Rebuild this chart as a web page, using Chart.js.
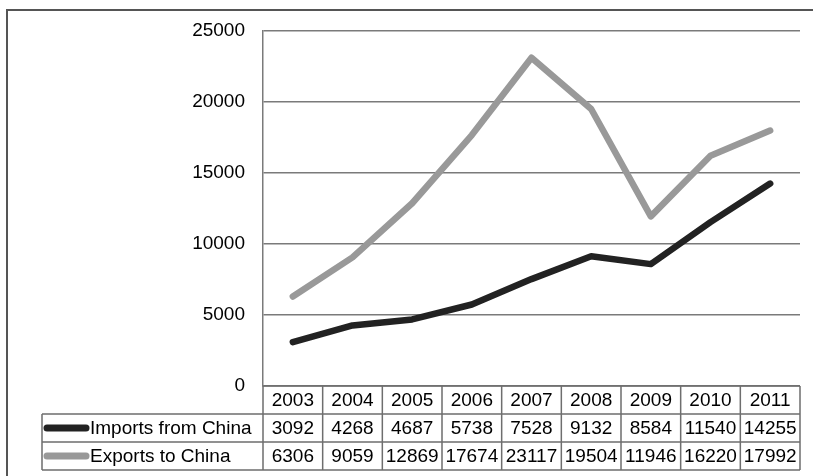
<!DOCTYPE html>
<html>
<head>
<meta charset="utf-8">
<script src="https://cdn.jsdelivr.net/npm/chart.js@4"></script>
<style>
  html, body { margin: 0; padding: 0; background: #fff; }
  #wrap { width: 813px; height: 476px; position: relative; }
</style>
</head>
<body>
<div id="wrap"><canvas id="chart"></canvas></div>
<script>
const years = ['2003', '2004', '2005', '2006', '2007', '2008', '2009', '2010', '2011'];
const importsFromChina = [3092, 4268, 4687, 5738, 7528, 9132, 8584, 11540, 14255];
const exportsToChina = [6306, 9059, 12869, 17674, 23117, 19504, 11946, 16220, 17992];
const seriesNames = ['Imports from China', 'Exports to China'];
const seriesColors = ['#222222', '#999999'];

const FONT = '"Liberation Sans", Arial, sans-serif';

// draws the data table under the plot, columns taken from the x scale
const dataTable = {
  id: 'dataTable',
  afterDraw(chart) {
    const ctx = chart.ctx;
    const x = chart.scales.x;
    const area = chart.chartArea;
    const rowH = 28;
    const labelLeft = 42;
    const top = area.bottom;
    const half = (x.getPixelForValue(1) - x.getPixelForValue(0)) / 2;
    const edges = years.map((_, i) => x.getPixelForValue(i) - half);
    edges.push(x.getPixelForValue(years.length - 1) + half);

    ctx.save();
    ctx.strokeStyle = '#6e6e6e';
    ctx.lineWidth = 1.5;
    ctx.font = '19px ' + FONT;
    ctx.fillStyle = '#000';
    ctx.textBaseline = 'middle';

    // horizontal lines
    const right = edges[edges.length - 1];
    ctx.beginPath();
    ctx.moveTo(area.left, top); ctx.lineTo(right, top);
    for (let r = 1; r <= 3; r++) {
      ctx.moveTo(labelLeft, top + r * rowH); ctx.lineTo(right, top + r * rowH);
    }
    // vertical lines
    ctx.moveTo(labelLeft, top + rowH); ctx.lineTo(labelLeft, top + 3 * rowH);
    edges.forEach(e => { ctx.moveTo(e, top); ctx.lineTo(e, top + 3 * rowH); });
    ctx.stroke();

    // year header
    ctx.textAlign = 'center';
    years.forEach((y, i) => ctx.fillText(y, x.getPixelForValue(i), top + rowH / 2 + 1));

    // series rows
    const rows = [importsFromChina, exportsToChina];
    rows.forEach((vals, r) => {
      const cy = top + (r + 1) * rowH + rowH / 2;
      ctx.textAlign = 'center';
      vals.forEach((v, i) => ctx.fillText(String(v), x.getPixelForValue(i), cy + 1));
      ctx.save();
      ctx.strokeStyle = seriesColors[r];
      ctx.lineWidth = 7;
      ctx.lineCap = 'round';
      ctx.beginPath();
      ctx.moveTo(47, cy); ctx.lineTo(86, cy);
      ctx.stroke();
      ctx.restore();
      ctx.textAlign = 'left';
      ctx.fillText(seriesNames[r], 90, cy + 1);
    });

    // outer frame
    ctx.strokeStyle = '#555';
    ctx.lineWidth = 2;
    ctx.strokeRect(7, 10, 900, 600);
    ctx.restore();
  }
};

new Chart(document.getElementById('chart'), {
  type: 'line',
  data: {
    labels: years,
    datasets: [
      {
        label: seriesNames[0],
        data: importsFromChina,
        borderColor: seriesColors[0],
        borderWidth: 6.5,
        pointRadius: 0,
        tension: 0,
        borderCapStyle: 'round',
        borderJoinStyle: 'round'
      },
      {
        label: seriesNames[1],
        data: exportsToChina,
        borderColor: seriesColors[1],
        borderWidth: 6.5,
        pointRadius: 0,
        tension: 0,
        borderCapStyle: 'round',
        borderJoinStyle: 'round'
      }
    ]
  },
  options: {
    responsive: true,
    maintainAspectRatio: false,
    animation: false,
    layout: { padding: { left: 0, top: 31, right: 13, bottom: 90 } },
    plugins: {
      legend: { display: false },
      tooltip: { enabled: false }
    },
    scales: {
      x: {
        display: false,
        offset: true
      },
      y: {
        min: 0,
        max: 25000,
        afterFit(scale) { scale.width = 263; },
        ticks: {
          stepSize: 5000,
          color: '#000',
          padding: 18,
          font: { family: FONT, size: 19 },
          callback: v => String(v)
        },
        grid: { color: '#7a7a7a', lineWidth: 1.5, drawTicks: false },
        border: { display: true, color: '#7a7a7a', width: 1.5 }
      }
    }
  },
  plugins: [dataTable]
});
</script>
</body>
</html>
